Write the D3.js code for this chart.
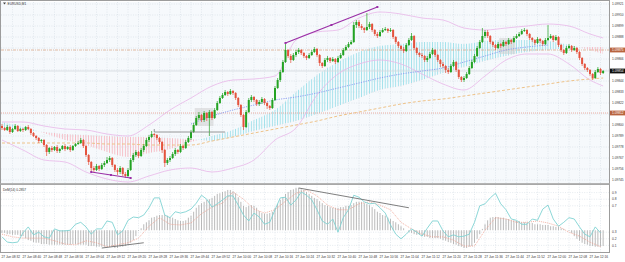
<!DOCTYPE html>
<html>
<head>
<meta charset="utf-8">
<script src="https://cdnjs.cloudflare.com/ajax/libs/d3/7.8.5/d3.min.js"></script>
<style>
body{margin:0;background:#fff}
svg{display:block}
text{font-family:"Liberation Sans",Arial,sans-serif;fill:#333}
</style>
</head>
<body>
<svg id="chart" width="625" height="262"></svg>
<script>
// EURUSD M1, one value per bar (open = previous close)
var firstOpen = 1.09799;
var closes = [
1.09797,1.09795,1.09798,1.09793,1.09796,1.09799,1.09794,1.09796,
1.09795,1.09798,1.09796,1.09792,1.09789,1.09787,1.09784,1.09785,
1.09780,1.09773,1.09777,1.09775,1.09778,1.09774,1.09776,1.09779,
1.09776,1.09778,1.09775,1.09779,1.09781,1.09782,1.09785,1.09779,
1.09770,1.09763,1.09757,1.09755,1.09759,1.09756,1.09760,1.09762,
1.09765,1.09767,1.09760,1.09755,1.09753,1.09757,1.09751,1.09749,
1.09755,1.09765,1.09770,1.09773,1.09769,1.09775,1.09779,1.09785,
1.09788,1.09791,1.09790,1.09787,1.09783,1.09775,1.09762,1.09765,
1.09767,1.09771,1.09775,1.09773,1.09779,1.09777,1.09783,1.09787,
1.09793,1.09800,1.09807,1.09810,1.09805,1.09812,1.09807,1.09813,
1.09807,1.09815,1.09822,1.09827,1.09830,1.09833,1.09831,1.09834,
1.09832,1.09827,1.09820,1.09810,1.09798,1.09813,1.09825,1.09828,
1.09825,1.09821,1.09823,1.09826,1.09822,1.09819,1.09817,1.09825,
1.09837,1.09845,1.09853,1.09863,1.09875,1.09869,1.09865,1.09870,
1.09873,1.09875,1.09872,1.09869,1.09867,1.09870,1.09873,1.09876,
1.09870,1.09862,1.09859,1.09865,1.09867,1.09864,1.09866,1.09863,
1.09867,1.09870,1.09875,1.09878,1.09881,1.09883,1.09900,1.09903,
1.09899,1.09897,1.09895,1.09898,1.09901,1.09895,1.09891,1.09889,
1.09893,1.09895,1.09896,1.09894,1.09895,1.09888,1.09883,1.09879,
1.09876,1.09874,1.09880,1.09885,1.09889,1.09877,1.09872,1.09870,
1.09869,1.09865,1.09867,1.09871,1.09875,1.09870,1.09865,1.09861,
1.09859,1.09855,1.09853,1.09859,1.09863,1.09855,1.09848,1.09845,
1.09847,1.09851,1.09857,1.09863,1.09869,1.09877,1.09883,1.09889,
1.09893,1.09889,1.09883,1.09880,1.09877,1.09881,1.09879,1.09883,
1.09881,1.09885,1.09883,1.09887,1.09889,1.09891,1.09894,1.09895,
1.09891,1.09887,1.09885,1.09882,1.09886,1.09884,1.09881,1.09885,
1.09887,1.09889,1.09885,1.09888,1.09880,1.09875,1.09872,1.09877,
1.09879,1.09875,1.09877,1.09873,1.09867,1.09861,1.09857,1.09855,
1.09851,1.09847,1.09853,1.09856,1.09852,1.09854
];
var highs = [
1.09801,1.09798,1.09800,1.09799,1.09797,1.09801,1.09800,1.09797,
1.09797,1.09799,1.09800,1.09797,1.09793,1.09790,1.09788,1.09786,
1.09786,1.09781,1.09778,1.09779,1.09779,1.09780,1.09777,1.09780,
1.09781,1.09779,1.09780,1.09780,1.09782,1.09784,1.09787,1.09786,
1.09780,1.09771,1.09764,1.09759,1.09761,1.09760,1.09762,1.09764,
1.09768,1.09769,1.09768,1.09761,1.09757,1.09759,1.09758,1.09753,
1.09757,1.09767,1.09772,1.09775,1.09774,1.09777,1.09781,1.09787,
1.09790,1.09794,1.09792,1.09791,1.09788,1.09784,1.09776,1.09767,
1.09769,1.09773,1.09777,1.09776,1.09781,1.09780,1.09785,1.09789,
1.09795,1.09802,1.09809,1.09813,1.09811,1.09814,1.09813,1.09815,
1.09814,1.09817,1.09824,1.09829,1.09832,1.09835,1.09834,1.09836,
1.09835,1.09833,1.09828,1.09821,1.09811,1.09815,1.09827,1.09830,
1.09829,1.09826,1.09825,1.09828,1.09827,1.09823,1.09820,1.09827,
1.09839,1.09847,1.09855,1.09865,1.09882,1.09876,1.09871,1.09872,
1.09875,1.09877,1.09876,1.09873,1.09870,1.09872,1.09875,1.09878,
1.09877,1.09871,1.09863,1.09867,1.09869,1.09868,1.09868,1.09867,
1.09869,1.09872,1.09877,1.09880,1.09883,1.09885,1.09903,1.09905,
1.09905,1.09901,1.09898,1.09912,1.09903,1.09902,1.09896,1.09893,
1.09895,1.09897,1.09898,1.09897,1.09897,1.09896,1.09889,1.09884,
1.09880,1.09878,1.09882,1.09887,1.09892,1.09890,1.09878,1.09873,
1.09872,1.09870,1.09869,1.09873,1.09877,1.09876,1.09871,1.09866,
1.09863,1.09860,1.09857,1.09861,1.09865,1.09864,1.09856,1.09849,
1.09849,1.09853,1.09859,1.09865,1.09871,1.09879,1.09885,1.09897,
1.09895,1.09895,1.09890,1.09884,1.09881,1.09883,1.09882,1.09885,
1.09884,1.09887,1.09886,1.09889,1.09891,1.09893,1.09896,1.09897,
1.09896,1.09892,1.09888,1.09886,1.09888,1.09887,1.09885,1.09887,
1.09900,1.09891,1.09890,1.09890,1.09889,1.09881,1.09876,1.09879,
1.09881,1.09880,1.09879,1.09878,1.09874,1.09868,1.09862,1.09858,
1.09856,1.09852,1.09855,1.09858,1.09857,1.09855
];
var lows = [
1.09795,1.09794,1.09794,1.09791,1.09792,1.09795,1.09793,1.09793,
1.09793,1.09794,1.09795,1.09790,1.09788,1.09785,1.09782,1.09782,
1.09778,1.09769,1.09771,1.09773,1.09774,1.09772,1.09772,1.09775,
1.09774,1.09775,1.09773,1.09774,1.09778,1.09780,1.09781,1.09777,
1.09768,1.09760,1.09753,1.09753,1.09754,1.09754,1.09755,1.09758,
1.09761,1.09763,1.09758,1.09753,1.09750,1.09751,1.09749,1.09747,
1.09748,1.09754,1.09763,1.09768,1.09767,1.09768,1.09773,1.09778,
1.09783,1.09787,1.09788,1.09785,1.09781,1.09772,1.09758,1.09760,
1.09763,1.09766,1.09769,1.09771,1.09772,1.09775,1.09776,1.09782,
1.09785,1.09792,1.09799,1.09805,1.09803,1.09803,1.09804,1.09789,
1.09805,1.09806,1.09814,1.09821,1.09826,1.09829,1.09829,1.09830,
1.09830,1.09825,1.09818,1.09808,1.09795,1.09797,1.09812,1.09823,
1.09823,1.09819,1.09819,1.09821,1.09820,1.09816,1.09815,1.09816,
1.09824,1.09836,1.09843,1.09852,1.09862,1.09867,1.09862,1.09864,
1.09868,1.09871,1.09870,1.09867,1.09865,1.09866,1.09869,1.09872,
1.09868,1.09859,1.09857,1.09858,1.09863,1.09862,1.09863,1.09861,
1.09862,1.09866,1.09869,1.09874,1.09877,1.09880,1.09882,1.09897,
1.09897,1.09895,1.09892,1.09894,1.09896,1.09893,1.09889,1.09887,
1.09888,1.09892,1.09894,1.09892,1.09893,1.09886,1.09881,1.09877,
1.09874,1.09872,1.09873,1.09879,1.09884,1.09875,1.09870,1.09868,
1.09867,1.09863,1.09863,1.09866,1.09870,1.09868,1.09863,1.09858,
1.09857,1.09852,1.09851,1.09852,1.09858,1.09853,1.09846,1.09843,
1.09843,1.09846,1.09850,1.09856,1.09862,1.09868,1.09876,1.09882,
1.09887,1.09887,1.09881,1.09878,1.09875,1.09876,1.09877,1.09878,
1.09879,1.09880,1.09881,1.09882,1.09886,1.09888,1.09890,1.09893,
1.09889,1.09885,1.09883,1.09880,1.09881,1.09882,1.09879,1.09880,
1.09884,1.09886,1.09883,1.09884,1.09878,1.09873,1.09870,1.09871,
1.09876,1.09873,1.09874,1.09871,1.09865,1.09859,1.09855,1.09853,
1.09849,1.09845,1.09846,1.09852,1.09850,1.09851
];
var timeLabels = [
"27 Jun 08:32","27 Jun 08:40","27 Jun 08:48","27 Jun 08:56","27 Jun 09:04","27 Jun 09:12",
"27 Jun 09:20","27 Jun 09:28","27 Jun 09:36","27 Jun 09:44","27 Jun 09:52","27 Jun 10:00",
"27 Jun 10:08","27 Jun 10:16","27 Jun 10:24","27 Jun 10:32","27 Jun 10:40","27 Jun 10:48",
"27 Jun 10:56","27 Jun 11:04","27 Jun 11:12","27 Jun 11:20","27 Jun 11:28","27 Jun 11:36",
"27 Jun 11:44","27 Jun 11:52","27 Jun 12:00","27 Jun 12:08","27 Jun 12:16"
];
var priceTicks = [1.09921,1.09910,1.09899,1.09888,1.09877,1.09866,1.09855,1.09844,1.09833,
  1.09822,1.09811,1.09800,1.09789,1.09778,1.09767,1.09756,1.09745];
var levels = [1.09875, 1.09812];

// indicator values read every 8 bars (plus the last bar)
var bbUpper = [1.09803,1.09803,1.09799,1.09796,1.09795,1.09791,1.09789,1.09800,1.09815,1.09827,
  1.09839,1.09845,1.09846,1.09849,1.09885,1.09893,1.09895,1.09907,1.09913,1.09911,
  1.09907,1.09905,1.09897,1.09895,1.09897,1.09899,1.09901,1.09899,1.09891,1.09887];
var bbLower = [1.09785,1.09775,1.09765,1.09763,1.09753,1.09746,1.09743,1.09749,1.09755,1.09757,
  1.09753,1.09757,1.09765,1.09785,1.09797,1.09830,1.09851,1.09861,1.09865,1.09861,
  1.09851,1.09841,1.09835,1.09849,1.09865,1.09871,1.09871,1.09861,1.09845,1.09839];
var maFast = [1.09803,1.09798,1.09792,1.09785,1.09780,1.09773,1.09768,1.09772,1.09776,1.09783,
  1.09789,1.09795,1.09805,1.09815,1.09833,1.09850,1.09863,1.09873,1.09879,1.09881,
  1.09883,1.09883,1.09881,1.09884,1.09885,1.09885,1.09884,1.09880,1.09875,1.09871];
var maSlow = [1.09797,1.09795,1.09793,1.09791,1.09790,1.09789,1.09788,1.09788,1.09787,1.09786,
  1.09784,1.09788,1.09794,1.09799,1.09804,1.09811,1.09819,1.09827,1.09835,1.09839,
  1.09845,1.09852,1.09858,1.09864,1.09869,1.09873,1.09875,1.09877,1.09878,1.09878];
var maLong = [1.09782,1.09782,1.09782,1.09782,1.09782,1.09781,1.09781,1.09780,1.09780,1.09780,
  1.09784,1.09788,1.09792,1.09796,1.09800,1.09804,1.09809,1.09813,1.09817,1.09821,
  1.09824,1.09826,1.09829,1.09832,1.09835,1.09838,1.09841,1.09844,1.09846,1.09847];
// from bar 72 to bar 208, every 8 bars
var maMid = [1.09801,1.09809,1.09815,1.09820,1.09825,1.09828,1.09832,1.09837,1.09842,
  1.09847,1.09851,1.09854,1.09857,1.09863,1.09869,1.09875,1.09878,1.09880];

// lower window
var demTitle = "DeM(14) 0.2857";
var demTicks = [0.9, 0.8, 0.7, 0.3, 0.2, 0.1];
var histBase = 0.33;
var histo = [
.29,.29,.27,.27,.26,.26,.26,.24, .24,.21,.18,.17,.15,.14,.14,.12,
.12,.12,.11,.11,.11,.11,.11,.11, .11,.11,.11,.12,.12,.11,.11,.11,
.11,.09,.09,.09,.08,.08,.08,.08, .08,.08,.08,.06,.06,.08,.08,.09,
.11,.14,.18,.24,.32,.36,.42,.45, .48,.52,.53,.55,.56,.56,.56,.55,
.53,.52,.50,.48,.47,.47,.48,.52, .55,.61,.67,.71,.74,.76,.79,.80,
.82,.85,.88,.89,.91,.92,.94,.94, .92,.89,.83,.76,.70,.68,.70,.71,
.70,.67,.62,.59,.58,.58,.59,.61, .67,.73,.79,.83,.88,.91,.94,.95,
.97,.97,.95,.94,.91,.88,.85,.82, .80,.77,.74,.71,.70,.68,.67,.67,
.67,.68,.68,.70,.70,.71,.74,.76, .76,.76,.74,.73,.71,.68,.65,.61,
.59,.56,.55,.52,.50,.47,.45,.42, .39,.36,.33,.30,.29,.27,.26,.26,
.24,.23,.23,.21,.21,.21,.21,.20, .18,.17,.15,.14,.12,.11,.09,.08,
.06,.06,.08,.09,.14,.20,.27,.35, .42,.48,.52,.53,.53,.53,.52,.52,
.50,.50,.48,.48,.47,.47,.45,.45, .45,.44,.44,.42,.42,.42,.41,.41,
.41,.39,.39,.38,.38,.36,.35,.33, .32,.29,.24,.20,.17,.14,.12,.11,
.09,.09,.08,.08,.08,.09
];
// every 2 bars
var demarker = [
.23,.15,.14,.15,.29,.38,.26,.30,.23,.21,.35,.32,.32,.33,.42,.45,.38,.27,.35,.35,
.47,.45,.26,.32,.48,.53,.52,.56,.67,.82,.82,.56,.52,.61,.59,.61,.65,.74,.86,.80,
.68,.73,.79,.85,.85,.71,.56,.47,.59,.53,.42,.45,.64,.82,.83,.71,.79,.91,.86,.79,
.64,.47,.42,.50,.30,.52,.64,.86,.83,.76,.73,.74,.67,.59,.41,.27,.20,.27,.35,.30,
.24,.36,.47,.47,.32,.23,.26,.23,.24,.27,.45,.70,.73,.82,.89,.73,.64,.50,.48,.42,
.42,.50,.48,.65,.71,.50,.39,.45,.52,.50,.38,.27,.23,.38,.29
];
// every 4 bars
var signal = [
.27,.23,.21,.21,.21,.17,.12,.11,.17,.14,.08,.11,.14,.21,.39,.52,.42,.41,.44,.58,
.68,.74,.91,.80,.65,.59,.64,.77,.89,.94,.85,.71,.64,.64,.73,.76,.71,.64,.45,.35,
.27,.23,.23,.18,.09,.09,.33,.52,.50,.45,.45,.47,.44,.39,.30,.24,.15,.08
];

// drawn objects: [bar, price]
var upTrend = [[108, 1.09882], [143, 1.09918]];
var lowTrend = [[34, 1.09753], [49, 1.09747]];
var grayLine = [[58, 1.09793], [85, 1.09793]];
var boxes = [[74, 80, 1.09799, 1.09817], [190, 195, 1.09871, 1.09887]];
var demUpTrend = [[113, 0.97], [155, 0.67]];
var demLowTrend = [[38, 0.06], [54, 0.14]];

var svg = d3.select("#chart");
var N = closes.length;
var plotR = 609, mainTop = 2, mainBot = 183, subTop = 186, subBot = 252;
var barStep = 2.625;
var fs = 3.2;

var x = d3.scaleLinear().domain([0, N - 1]).range([2, 2 + barStep * (N - 1)]);
var y = d3.scaleLinear().domain([1.09742, 1.09923]).range([mainBot, mainTop]);
var y2 = d3.scaleLinear().domain([0, 1]).range([subBot, subTop]);

var opens = closes.map(function(c, i){ return i ? closes[i - 1] : firstOpen; });
var sampleBars = d3.range(0, N, 8).concat([N - 1]);
var midBars = d3.range(72, 209, 8);

var defs = svg.append("defs");
defs.append("clipPath").attr("id", "clipMain").append("rect")
  .attr("x", 1).attr("y", mainTop).attr("width", plotR - 1).attr("height", mainBot - mainTop);
defs.append("clipPath").attr("id", "clipSub").append("rect")
  .attr("x", 1).attr("y", subTop).attr("width", plotR - 1).attr("height", subBot - subTop);

function hatch(id, color){
  var p = defs.append("pattern").attr("id", id)
    .attr("patternUnits", "userSpaceOnUse")
    .attr("x", x(0) - 0.5).attr("y", 0)
    .attr("width", barStep).attr("height", 4);
  p.append("rect").attr("x", 0).attr("y", 0).attr("width", 0.9).attr("height", 4).attr("fill", color);
}
hatch("hatchUp", "#9fe0ea");
hatch("hatchDn", "#f6b9c2");

var cloud = sampleBars.map(function(b, i){
  return {bar: b, up: bbUpper[i], lo: bbLower[i], fast: maFast[i], slow: maSlow[i], ma: maLong[i]};
});
var curve = d3.curveMonotoneX;

defs.append("clipPath").attr("id", "aboveSlow").append("path")
  .attr("d", d3.area().curve(curve).x(function(d){ return x(d.bar); })
    .y0(function(d){ return y(d.slow); }).y1(mainTop)(cloud));
defs.append("clipPath").attr("id", "belowSlow").append("path")
  .attr("d", d3.area().curve(curve).x(function(d){ return x(d.bar); })
    .y0(function(d){ return y(d.slow); }).y1(mainBot)(cloud));

// backgrounds
svg.append("rect").attr("width", 625).attr("height", 262).attr("fill", "#ffffff");
svg.append("rect").attr("x", 1).attr("y", mainTop).attr("width", plotR - 1).attr("height", mainBot - mainTop).attr("fill", "#f6f9fc");
svg.append("rect").attr("x", 1).attr("y", subTop).attr("width", plotR - 1).attr("height", subBot - subTop).attr("fill", "#ffffff");

// grid
var grid = svg.append("g").attr("stroke", "#d3dbe4").attr("stroke-width", 0.6).attr("stroke-dasharray", "1,1.4");
grid.selectAll("line.v").data(d3.range(4, N, 4)).enter().append("line")
  .attr("x1", function(d){ return x(d); }).attr("x2", function(d){ return x(d); })
  .attr("y1", mainTop).attr("y2", subBot);
grid.selectAll("line.h").data(priceTicks).enter().append("line")
  .attr("x1", 1).attr("x2", plotR)
  .attr("y1", function(d){ return y(d); }).attr("y2", function(d){ return y(d); });
grid.selectAll("line.h2").data(demTicks).enter().append("line")
  .attr("x1", 1).attr("x2", plotR)
  .attr("y1", function(d){ return y2(d); }).attr("y2", function(d){ return y2(d); });

var main = svg.append("g").attr("clip-path", "url(#clipMain)");

// moving average cloud
var cloudArea = d3.area().curve(curve).x(function(d){ return x(d.bar); })
  .y0(function(d){ return y(d.slow); }).y1(function(d){ return y(d.fast); });
main.append("g").attr("clip-path", "url(#aboveSlow)").append("path")
  .attr("d", cloudArea(cloud)).attr("fill", "url(#hatchUp)");
main.append("g").attr("clip-path", "url(#belowSlow)").append("path")
  .attr("d", cloudArea(cloud)).attr("fill", "url(#hatchDn)");

// levels and current price
main.append("line").attr("x1", 1).attr("x2", plotR)
  .attr("y1", y(levels[0])).attr("y2", y(levels[0]))
  .attr("stroke", "#dca98c").attr("stroke-width", 0.8).attr("stroke-dasharray", "3,1,1,1");
main.append("line").attr("x1", 1).attr("x2", plotR)
  .attr("y1", y(levels[1])).attr("y2", y(levels[1]))
  .attr("stroke", "#e99a8b").attr("stroke-width", 0.8).attr("stroke-dasharray", "1,1");
main.append("line").attr("x1", 1).attr("x2", plotR)
  .attr("y1", y(closes[N - 1])).attr("y2", y(closes[N - 1]))
  .attr("stroke", "#d4d9de").attr("stroke-width", 0.8);

// boxes
main.selectAll("rect.box").data(boxes).enter().append("rect")
  .attr("x", function(d){ return x(d[0]) - 1.5; })
  .attr("width", function(d){ return x(d[1]) - x(d[0]) + 3; })
  .attr("y", function(d){ return y(d[3]); })
  .attr("height", function(d){ return y(d[2]) - y(d[3]); })
  .attr("fill", "#cfcfcf").attr("opacity", 0.55);

// bands and averages
function band(key, color, width, dash){
  main.append("path")
    .attr("d", d3.line().curve(curve).x(function(d){ return x(d.bar); }).y(function(d){ return y(d[key]); })(cloud))
    .attr("fill", "none").attr("stroke", color).attr("stroke-width", width)
    .attr("stroke-dasharray", dash);
}
band("up", "#e8b6e8", 0.8, null);
band("lo", "#e8b6e8", 0.8, null);
band("ma", "#eec38a", 1, "3,2");
main.append("path")
  .attr("d", d3.line().curve(curve).x(function(d, i){ return x(midBars[i]); }).y(function(d){ return y(d); })(maMid))
  .attr("fill", "none").attr("stroke", "#8797ef").attr("stroke-width", 0.9).attr("stroke-dasharray", "1.2,1.2");

// candles
var candles = main.selectAll("g.candle").data(closes).enter().append("g")
  .attr("stroke", function(d, i){ return d >= opens[i] ? "#23a323" : "#e4533e"; })
  .attr("fill", function(d, i){ return d >= opens[i] ? "#23a323" : "#e4533e"; });
candles.append("line")
  .attr("x1", function(d, i){ return x(i); }).attr("x2", function(d, i){ return x(i); })
  .attr("y1", function(d, i){ return y(highs[i]); }).attr("y2", function(d, i){ return y(lows[i]); })
  .attr("stroke-width", 0.7);
candles.append("rect")
  .attr("x", function(d, i){ return x(i) - 1; }).attr("width", 2)
  .attr("y", function(d, i){ return y(Math.max(d, opens[i])); })
  .attr("height", function(d, i){ return Math.max(0.8, Math.abs(y(d) - y(opens[i]))); })
  .attr("stroke", "none");

// drawn lines
function trend(g, pts, scale, color, width, marks){
  g.append("line")
    .attr("x1", x(pts[0][0])).attr("y1", scale(pts[0][1]))
    .attr("x2", x(pts[1][0])).attr("y2", scale(pts[1][1]))
    .attr("stroke", color).attr("stroke-width", width);
  if (marks) {
    var mid = [(pts[0][0] + pts[1][0]) / 2, (pts[0][1] + pts[1][1]) / 2];
    g.selectAll(null).data([pts[0], mid, pts[1]]).enter().append("rect")
      .attr("x", function(d){ return x(d[0]) - 1; }).attr("y", function(d){ return scale(d[1]) - 1; })
      .attr("width", 2).attr("height", 2).attr("fill", color);
  }
}
trend(main, upTrend, y, "#9a2fa6", 1.2, true);
trend(main, lowTrend, y, "#9a2fa6", 1.2, true);
trend(main, grayLine, y, "#7d7d7d", 0.8, false);
main.append("line").attr("x1", x(grayLine[0][0])).attr("x2", x(grayLine[0][0]))
  .attr("y1", y(grayLine[0][1]) - 3).attr("y2", y(grayLine[0][1]))
  .attr("stroke", "#7d7d7d").attr("stroke-width", 0.8);

// lower window
var sub = svg.append("g").attr("clip-path", "url(#clipSub)");
sub.selectAll("line.h").data(histo).enter().append("line")
  .attr("x1", function(d, i){ return x(i); }).attr("x2", function(d, i){ return x(i); })
  .attr("y1", y2(histBase)).attr("y2", function(d){ return y2(d); })
  .attr("stroke", "#a8a8a8").attr("stroke-width", 0.8);
sub.append("path")
  .attr("d", d3.line().x(function(d, i){ return x(i * 4); }).y(function(d){ return y2(d); })(signal))
  .attr("fill", "none").attr("stroke", "#f0a08e").attr("stroke-width", 0.8).attr("stroke-dasharray", "1,1");
sub.append("path")
  .attr("d", d3.line().x(function(d, i){ return x(i * 2); }).y(function(d){ return y2(d); })(demarker))
  .attr("fill", "none").attr("stroke", "#7fd3d3").attr("stroke-width", 0.9);
trend(sub, demUpTrend, y2, "#5e5e5e", 0.8, false);
trend(sub, demLowTrend, y2, "#5e5e5e", 0.8, false);

// frames
var frame = svg.append("g").attr("fill", "none").attr("stroke", "#9c9c9c");
frame.append("rect").attr("x", 0.5).attr("y", 0.5).attr("width", plotR).attr("height", mainBot);
frame.append("rect").attr("x", 0.5).attr("y", subTop - 1.5).attr("width", plotR).attr("height", subBot - subTop + 2);
svg.append("rect").attr("x", 0.5).attr("y", mainBot).attr("width", plotR).attr("height", subTop - mainBot - 1.5).attr("fill", "#b4b4b4");

// price axis (labels hidden under the coloured tags are skipped)
var tags = [[levels[0], "#b8633e"], [levels[1], "#b8633e"], [closes[N - 1], "#111"]];
var axis = svg.append("g").attr("font-size", fs);
axis.selectAll("text.p")
  .data(priceTicks.filter(function(p){
    return tags.every(function(t){ return Math.abs(y(p) - y(t[0])) > 4; });
  }))
  .enter().append("text")
  .attr("x", 612).attr("y", function(d){ return y(d) + 1.1; })
  .text(d3.format(".5f"));
tags.forEach(function(t){
  axis.append("rect").attr("x", plotR + 1).attr("y", y(t[0]) - 2.4).attr("width", 15).attr("height", 4.8).attr("fill", t[1]);
  axis.append("text").attr("x", 612).attr("y", y(t[0]) + 1.1).style("fill", "#fff").text(d3.format(".5f")(t[0]));
});
axis.selectAll("text.d").data(demTicks).enter().append("text")
  .attr("x", 612).attr("y", function(d){ return y2(d) + 1.1; })
  .text(d3.format(".1f"));

// time axis
svg.append("g").attr("font-size", fs).selectAll("text").data(timeLabels).enter().append("text")
  .attr("x", function(d, i){ return x(i * 8) - 0.5; }).attr("y", 258)
  .text(function(d){ return d; });

// titles
svg.append("path").attr("d", "M3,2.5 L6,2.5 L4.5,4.5 Z").attr("fill", "#444");
svg.append("text").attr("x", 7.5).attr("y", 4.6).attr("font-size", fs).text("EURUSD,M1");
svg.append("text").attr("x", 3).attr("y", 190.5).attr("font-size", fs).text(demTitle);
</script>
</body>
</html>
